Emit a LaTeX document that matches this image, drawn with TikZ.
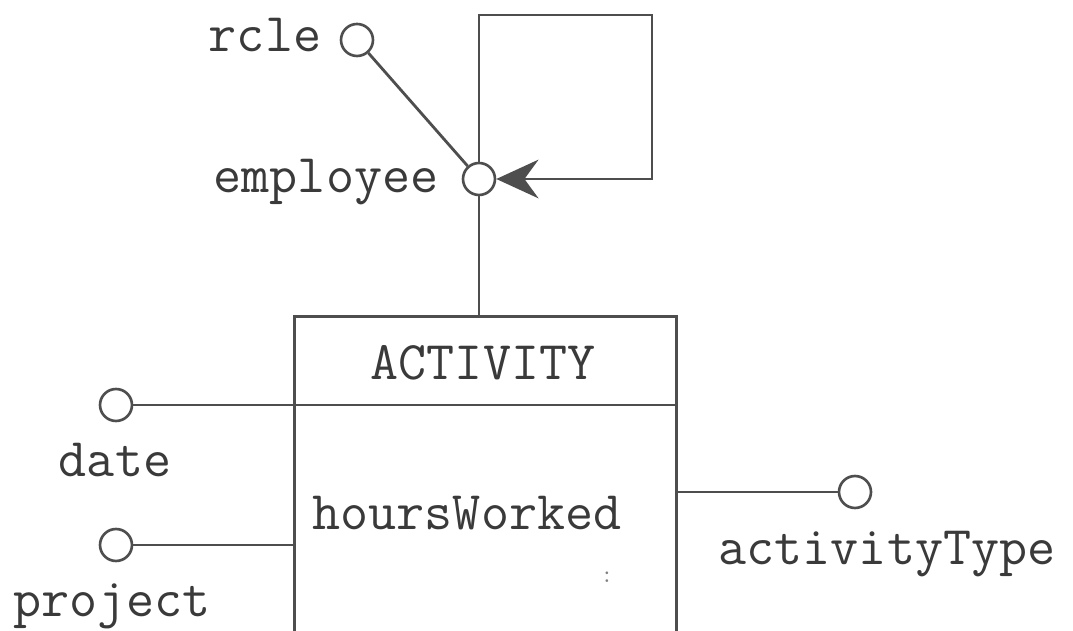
\documentclass[tikz,border=0pt]{standalone}
\usepackage{fontspec}
\usetikzlibrary{arrows.meta}
\definecolor{ink}{HTML}{3A3A3A}
\definecolor{linegray}{HTML}{4E4E4E}
\begin{document}
\begin{tikzpicture}[x=0.02cm,y=-0.02cm,
  lbl/.style={font=\ttfamily\fontsize{31}{34}\selectfont, text=ink, inner sep=0pt},
  attr/.style={circle, draw=linegray, line width=1.5pt, minimum size=0.64cm, inner sep=0pt},
  conn/.style={draw=linegray, line width=1.6pt},
  entity/.style={draw=linegray, line width=1.6pt, inner sep=0pt}]

\useasboundingbox (0,0) rectangle (1073,631);
\clip (0,0) rectangle (1073,631);

% entity box (runs off the lower edge)
\node[entity, minimum width=7.64cm, minimum height=6.8cm, anchor=north west] (act) at (293,315) {};
\node[lbl, anchor=base] (title) at (483,380) {ACTIVITY};
\node[lbl, anchor=base] (hw) at (467,530) {hoursWorked};
\node[font=\ttfamily\fontsize{14}{16}\selectfont, text=gray] (more) at (607,577) {:};

% attribute circles
\node[attr] (role) at (357,40) {};
\node[attr] (emp) at (479,179) {};
\node[attr] (date) at (116,405) {};
\node[attr] (proj) at (116,545) {};
\node[attr] (atype) at (855,492) {};

% attribute names
\node[lbl, anchor=base] (roleL) at (265,52) {rcle};
\node[lbl, anchor=base] (empL) at (326,193) {employee};
\node[lbl, anchor=base] (dateL) at (115,477) {date};
\node[lbl, anchor=base] (projL) at (112,617) {project};
\node[lbl, anchor=base] (atypeL) at (887,565) {activityType};

% connectors
\coordinate (loopTR) at (652,15);
\draw[conn] (role) -- (emp);
\draw[conn] (emp) -- (emp |- act.north);
\draw[conn, -{Stealth[length=24pt,width=22pt,inset=8pt]}] (emp.north) |- (loopTR) |- (emp.east);
\draw[conn] (date) -- (date -| act.east);
\draw[conn] (proj) -- (proj -| act.west);
\draw[conn] (atype) -- (atype -| act.east);
\end{tikzpicture}
\end{document}
